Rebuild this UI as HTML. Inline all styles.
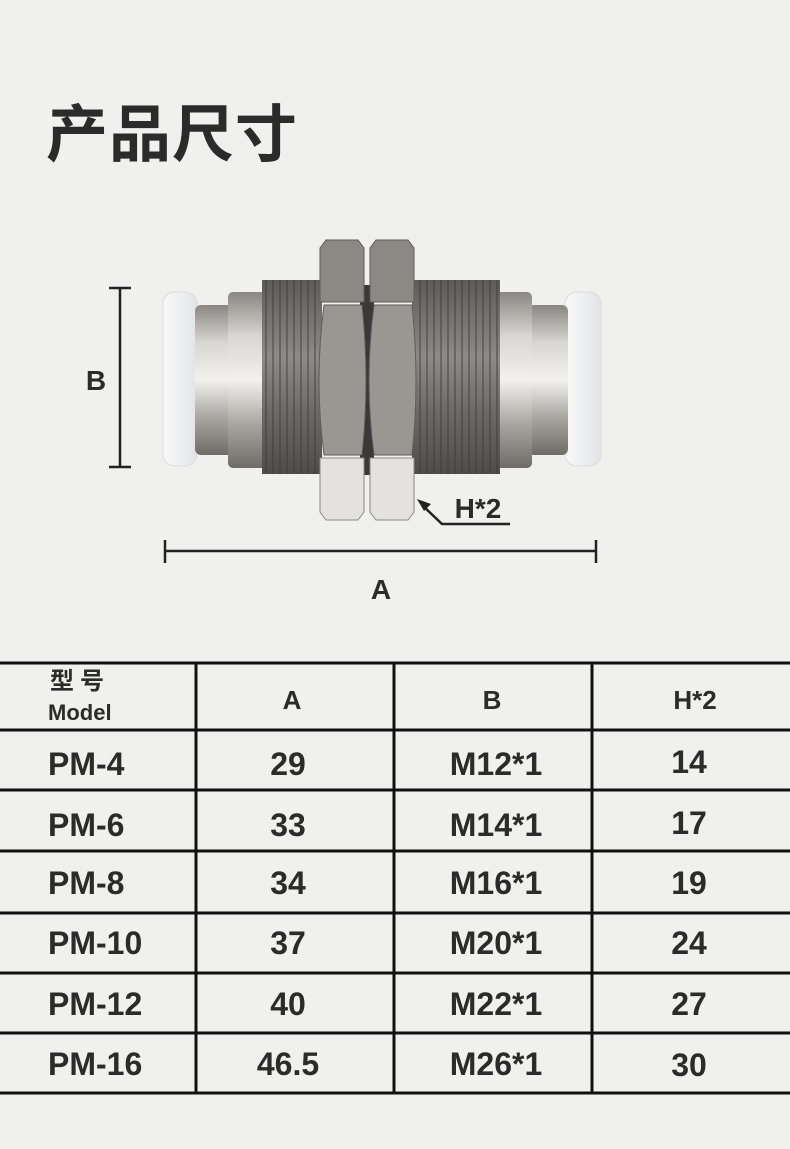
<!DOCTYPE html>
<html><head><meta charset="utf-8"><style>
body{margin:0;width:790px;height:1149px;background:#f0f0ef;overflow:hidden;font-family:"Liberation Sans","Noto Sans CJK SC",sans-serif;color:#2b2b2b}
.t{position:absolute;font-weight:bold}
</style></head><body>
<svg width="790" height="1149" style="position:absolute;left:0;top:0">
<defs>
<linearGradient id="m" x1="0" y1="0" x2="0" y2="1">
<stop offset="0" stop-color="#8a8783"/><stop offset=".25" stop-color="#d8d6d2"/><stop offset=".5" stop-color="#f2f1ee"/><stop offset=".75" stop-color="#a9a6a1"/><stop offset="1" stop-color="#6f6c68"/></linearGradient>
<linearGradient id="th" x1="0" y1="0" x2="0" y2="1">
<stop offset="0" stop-color="#5d5b58"/><stop offset=".4" stop-color="#8e8b87"/><stop offset=".7" stop-color="#6a6864"/><stop offset="1" stop-color="#4f4d4a"/></linearGradient>
<linearGradient id="w" x1="0" y1="0" x2="1" y2="0">
<stop offset="0" stop-color="#fafafa"/><stop offset="1" stop-color="#e2e3e6"/></linearGradient>
</defs>
<rect x="163" y="292" width="34" height="174" rx="12" fill="url(#w)" stroke="#dcdcdc"/>
<rect x="565" y="292" width="36" height="174" rx="12" fill="url(#w)" stroke="#dcdcdc"/>
<rect x="195" y="305" width="40" height="150" rx="6" fill="url(#m)"/>
<rect x="528" y="305" width="40" height="150" rx="6" fill="url(#m)"/>
<rect x="228" y="292" width="38" height="176" rx="5" fill="url(#m)"/>
<rect x="496" y="292" width="36" height="176" rx="5" fill="url(#m)"/>
<rect x="262" y="280" width="60" height="194" fill="url(#th)"/>
<rect x="412" y="280" width="88" height="194" fill="url(#th)"/>
<g stroke="#3f3d3b" stroke-width="2" opacity=".45">
<line x1="266" y1="280" x2="266" y2="474"/><line x1="273" y1="280" x2="273" y2="474"/><line x1="280" y1="280" x2="280" y2="474"/><line x1="287" y1="280" x2="287" y2="474"/><line x1="294" y1="280" x2="294" y2="474"/><line x1="301" y1="280" x2="301" y2="474"/><line x1="308" y1="280" x2="308" y2="474"/><line x1="315" y1="280" x2="315" y2="474"/>
<line x1="420" y1="280" x2="420" y2="474"/><line x1="427" y1="280" x2="427" y2="474"/><line x1="434" y1="280" x2="434" y2="474"/><line x1="441" y1="280" x2="441" y2="474"/><line x1="448" y1="280" x2="448" y2="474"/><line x1="455" y1="280" x2="455" y2="474"/><line x1="462" y1="280" x2="462" y2="474"/><line x1="469" y1="280" x2="469" y2="474"/><line x1="476" y1="280" x2="476" y2="474"/><line x1="483" y1="280" x2="483" y2="474"/><line x1="490" y1="280" x2="490" y2="474"/><line x1="497" y1="280" x2="497" y2="474"/>
</g>
<rect x="360" y="285" width="14" height="190" fill="#3a3937"/>
<g fill="#8c8985" stroke="#5e5c59" stroke-width="1">
<polygon points="326,240 358,240 364,248 364,302 320,302 320,248"/>
<polygon points="376,240 408,240 414,248 414,302 370,302 370,248"/>
</g>
<g fill="#9a9793" stroke="#5e5c59">
<path d="M324,305 L362,305 Q370,380 362,455 L324,455 Q314,380 324,305Z"/>
<path d="M374,305 L412,305 Q420,380 412,455 L374,455 Q364,380 374,305Z"/>
</g>
<g fill="#e4e2df" stroke="#8a8884">
<polygon points="320,458 364,458 364,512 358,520 326,520 320,512"/>
<polygon points="370,458 414,458 414,512 408,520 376,520 370,512"/>
</g>
<g stroke="#222" stroke-width="2.5" fill="none">
<line x1="120" y1="288" x2="120" y2="467"/><line x1="109" y1="288" x2="131" y2="288"/><line x1="109" y1="467" x2="131" y2="467"/>
<line x1="165" y1="551" x2="596" y2="551"/><line x1="165" y1="540" x2="165" y2="563"/><line x1="596" y1="540" x2="596" y2="563"/>
<polyline points="510,524 442,524 422,505"/>
</g>
<polygon points="417,499 431,504 424,511" fill="#222"/>
<g stroke="#111" stroke-width="3">
<line x1="0" y1="663" x2="790" y2="663"/><line x1="0" y1="730" x2="790" y2="730"/>
<line x1="0" y1="790" x2="790" y2="790"/><line x1="0" y1="851" x2="790" y2="851"/>
<line x1="0" y1="913" x2="790" y2="913"/><line x1="0" y1="973" x2="790" y2="973"/>
<line x1="0" y1="1033" x2="790" y2="1033"/><line x1="0" y1="1093" x2="790" y2="1093"/>
<line x1="196" y1="663" x2="196" y2="1093"/><line x1="394" y1="663" x2="394" y2="1093"/><line x1="592" y1="663" x2="592" y2="1093"/>
</g>
<g font-family="Liberation Sans, sans-serif" font-weight="bold" font-size="32" fill="#2b2b2b" text-anchor="middle">
<text x="96" y="390" font-size="28">B</text><text x="381" y="599" font-size="28">A</text><text x="478" y="518" font-size="28">H*2</text>
<text x="292" y="709" font-size="26">A</text><text x="492" y="709" font-size="26">B</text><text x="695" y="709" font-size="26">H*2</text>
<g text-anchor="start"><text x="48" y="775">PM-4</text><text x="48" y="836">PM-6</text><text x="48" y="894">PM-8</text><text x="48" y="954">PM-10</text><text x="48" y="1015">PM-12</text><text x="48" y="1075">PM-16</text></g>
<text x="288" y="775">29</text><text x="288" y="836">33</text><text x="288" y="894">34</text><text x="288" y="954">37</text><text x="288" y="1015">40</text><text x="288" y="1075">46.5</text>
<text x="496" y="775">M12*1</text><text x="496" y="836">M14*1</text><text x="496" y="894">M16*1</text><text x="496" y="954">M20*1</text><text x="496" y="1015">M22*1</text><text x="496" y="1075">M26*1</text>
<text x="689" y="773">14</text><text x="689" y="834">17</text><text x="689" y="894">19</text><text x="689" y="954">24</text><text x="689" y="1015">27</text><text x="689" y="1076">30</text>
</g>
</svg>
<div class="t" style="left:46px;top:84px;font-size:62px;letter-spacing:1px">产品尺寸</div>
<div class="t" style="left:50px;top:668px;font-size:24px;line-height:28px;letter-spacing:6px">型号</div>
<div class="t" style="left:48px;top:700px;font-size:22px;line-height:26px">Model</div>
</body></html>
